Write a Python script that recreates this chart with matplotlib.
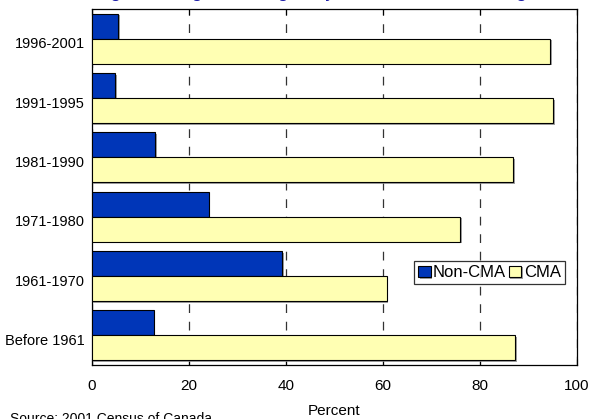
import matplotlib
matplotlib.use("Agg")
import matplotlib.pyplot as plt
import matplotlib.patheffects as pe
import numpy as np

plt.rcParams['font.family'] = ['Liberation Sans', 'DejaVu Sans']

periods = ["Before 1961", "1961-1970", "1971-1980", "1981-1990", "1991-1995", "1996-2001"]
non_cma = [12.8, 39.2, 24.1, 13.1, 4.9, 5.5]
cma = [87.2, 60.8, 75.9, 86.9, 95.1, 94.5]
x_ticks = [0, 20, 40, 60, 80, 100]

title = "Immigrants' region of origin, by residence and setting"
series_names = ["Non-CMA", "CMA"]
colors = ["#0036B8", "#FFFFB3"]

fig = plt.figure(figsize=(5.93, 4.19), dpi=100)
ax = fig.add_axes([0.1546, 0.1289, 0.8184, 0.8496])

y = np.arange(len(periods))
h = 0.42
shadow = [pe.SimplePatchShadow(offset=(1.2, -1.2), shadow_rgbFace="#888888", alpha=0.8), pe.Normal()]

b1 = ax.barh(y + 0.28, non_cma, height=h, color=colors[0], edgecolor="black",
             linewidth=0.8, label=series_names[0], zorder=3)
b2 = ax.barh(y - 0.14, cma, height=h, color=colors[1], edgecolor="black",
             linewidth=0.8, label=series_names[1], zorder=3)
for bar in list(b1) + list(b2):
    bar.set_path_effects(shadow)

ax.set_xlim(0, 100)
ax.set_ylim(-0.43, 5.57)
ax.set_xticks(x_ticks)
ax.set_xticklabels([str(v) for v in x_ticks], fontsize=11)
ax.set_yticks(y)
ax.set_yticklabels(periods, fontsize=10.5)
ax.tick_params(axis='y', length=0, pad=5)
ax.tick_params(axis='x', direction='in', length=4, top=True, bottom=True, pad=10, width=0.8)

ax.xaxis.grid(True, linestyle=(0, (7, 7)), color="#333333", linewidth=0.9, zorder=1)
ax.set_axisbelow(True)
for s in ax.spines.values():
    s.set_linewidth(0.9)
    s.set_color("black")

ax.set_xlabel("Percent", fontsize=11, labelpad=8)

leg = ax.legend(ncol=2, loc="upper left", bbox_to_anchor=(0.664, 0.292),
                fontsize=12, frameon=True, fancybox=False, edgecolor="black",
                handlelength=0.75, handleheight=0.7, handletextpad=0.15,
                columnspacing=0.15, borderpad=0.25, borderaxespad=0)
leg.get_frame().set_linewidth(0.9)

fig.text(0.501, 1.0 + 3.2 / 419, title, ha="center", va="baseline",
         fontsize=14, color="#1C1CA8")
fig.text(0.017, 0.5 / 419, "Source: 2001 Census of Canada", ha="left", va="center",
         fontsize=10)

fig.savefig("out.png", dpi=100)
